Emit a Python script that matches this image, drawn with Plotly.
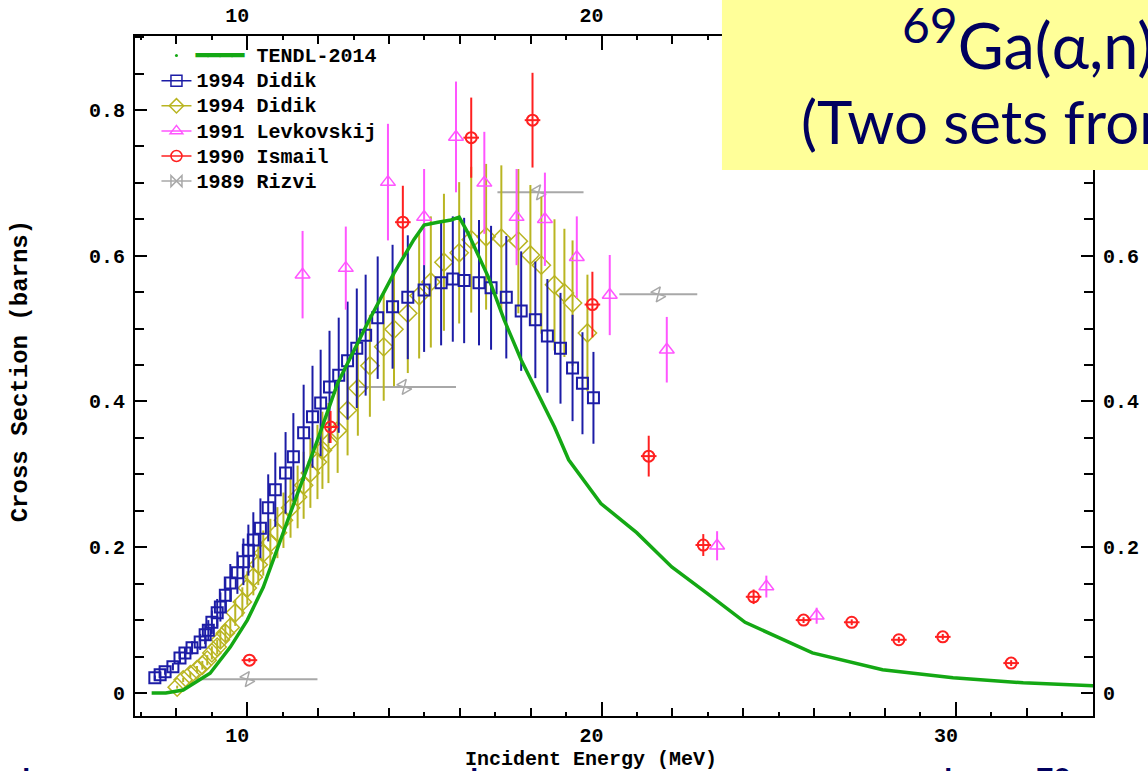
import plotly.graph_objects as go

# ---------------- data ----------------
tendl_x = [7.3, 7.7, 8.19, 8.95, 9.52, 10.0, 10.45, 10.93, 11.42, 11.98, 12.55, 13.4, 14.14,
           14.7, 14.99, 15.38, 15.75, 15.98, 16.23, 16.8, 17.25, 17.73, 18.2, 18.67, 19.07,
           19.98, 20.99, 21.98, 22.97, 24.05, 25.95, 27.93, 29.92, 31.9, 33.88]
tendl_y = [0.0, 0.0, 0.004, 0.027, 0.063, 0.10, 0.145, 0.21, 0.274, 0.347, 0.425, 0.508, 0.576,
           0.622, 0.642, 0.646, 0.649, 0.653, 0.631, 0.571, 0.512, 0.457, 0.41, 0.365, 0.32,
           0.26, 0.22, 0.173, 0.137, 0.097, 0.055, 0.032, 0.021, 0.014, 0.01]

didik1_x = [7.39, 7.54, 7.68, 7.9, 8.1, 8.24, 8.44, 8.67, 8.81, 8.9, 9.0, 9.15, 9.24, 9.38, 9.52,
            9.72, 9.89, 10.03, 10.17, 10.37, 10.59, 10.79, 11.08, 11.3, 11.59, 11.84, 12.07,
            12.32, 12.58, 12.83, 13.09, 13.34, 13.68, 14.1, 14.53, 14.99, 15.47, 15.8, 16.12,
            16.54, 16.88, 17.31, 17.73, 18.13, 18.47, 18.84, 19.18, 19.46, 19.77]
didik1_y = [0.021, 0.025, 0.029, 0.036, 0.048, 0.055, 0.062, 0.07, 0.08, 0.086, 0.097, 0.11,
            0.118, 0.134, 0.151, 0.165, 0.18, 0.196, 0.21, 0.226, 0.254, 0.279, 0.302, 0.324,
            0.357, 0.379, 0.398, 0.42, 0.436, 0.456, 0.473, 0.491, 0.515, 0.53, 0.543, 0.553,
            0.563, 0.568, 0.566, 0.563, 0.556, 0.543, 0.524, 0.512, 0.49, 0.473, 0.446, 0.425,
            0.405]
didik1_err = [0.003, 0.004, 0.004, 0.005, 0.007, 0.008, 0.009, 0.011, 0.013, 0.014, 0.016, 0.019,
              0.02, 0.023, 0.026, 0.029, 0.032, 0.035, 0.038, 0.041, 0.046, 0.051, 0.056, 0.06,
              0.066, 0.07, 0.073, 0.077, 0.079, 0.081, 0.082, 0.083, 0.084, 0.085, 0.085, 0.085,
              0.086, 0.086, 0.086, 0.086, 0.085, 0.084, 0.082, 0.08, 0.078, 0.076, 0.073, 0.07,
              0.063]

didik2_x = [8.02, 8.19, 8.39, 8.58, 8.73, 8.87, 9.0, 9.15, 9.24, 9.38, 9.52, 9.66, 9.86, 10.0,
            10.17, 10.31, 10.45, 10.65, 10.85, 11.02, 11.22, 11.42, 11.59, 11.78, 11.98, 12.12,
            12.29, 12.55, 12.83, 13.12, 13.46, 13.85, 14.14, 14.53, 14.85, 15.18, 15.55, 15.98,
            16.32, 16.74, 17.17, 17.65, 17.99, 18.3, 18.67, 18.95, 19.18, 19.6]
didik2_y = [0.008, 0.018, 0.025, 0.032, 0.038, 0.045, 0.055, 0.063, 0.073, 0.082, 0.09, 0.11,
            0.125, 0.144, 0.159, 0.176, 0.192, 0.206, 0.22, 0.237, 0.254, 0.269, 0.285, 0.302,
            0.317, 0.333, 0.343, 0.36, 0.388, 0.418, 0.449, 0.475, 0.499, 0.521, 0.545, 0.564,
            0.591, 0.604, 0.622, 0.626, 0.624, 0.62, 0.601, 0.587, 0.56, 0.549, 0.535, 0.494]
didik2_err = [0.002, 0.003, 0.004, 0.005, 0.006, 0.007, 0.009, 0.01, 0.012, 0.013, 0.014, 0.018,
              0.02, 0.023, 0.025, 0.028, 0.031, 0.033, 0.035, 0.038, 0.041, 0.043, 0.046, 0.048,
              0.051, 0.053, 0.055, 0.058, 0.062, 0.065, 0.07, 0.074, 0.078, 0.082, 0.086, 0.09,
              0.094, 0.097, 0.1, 0.1, 0.1, 0.099, 0.096, 0.094, 0.09, 0.088, 0.086, 0.08]

levk_x = [11.56, 12.78, 13.97, 14.99, 15.89, 16.69, 17.6, 18.4, 19.3, 20.23, 21.84, 23.26, 24.65, 26.07]
levk_y = [0.574, 0.583, 0.701, 0.653, 0.763, 0.70, 0.653, 0.65, 0.598, 0.546, 0.471, 0.202, 0.146, 0.106]
levk_err = [0.06, 0.057, 0.08, 0.066, 0.076, 0.07, 0.066, 0.064, 0.056, 0.055, 0.045, 0.02, 0.015, 0.011]

ismail_x = [10.06, 12.35, 14.39, 16.32, 18.05, 19.74, 21.33, 22.87, 24.29, 25.7, 27.06, 28.39, 29.63, 31.56]
ismail_y = [0.045, 0.365, 0.646, 0.762, 0.786, 0.533, 0.325, 0.203, 0.132, 0.1, 0.097, 0.073, 0.077, 0.041]
ismail_err = [0.003, 0.022, 0.05, 0.055, 0.065, 0.045, 0.028, 0.015, 0.01, 0.004, 0.004, 0.004, 0.004, 0.004]
ismail_xerr = [0.22, 0.22, 0.22, 0.22, 0.22, 0.22, 0.22, 0.22, 0.22, 0.22, 0.22, 0.22, 0.22, 0.22]

rizvi_x = [10.0, 14.43, 18.22, 21.6]
rizvi_y = [0.019, 0.42, 0.687, 0.547]
rizvi_xplus = [1.98, 1.46, 1.27, 1.1]
rizvi_xminus = [1.47, 1.32, 1.16, 1.1]

x_range = [6.83, 33.87]
y_range = [-0.0316, 0.9015]
x_bottom_labels = [10, 20, 30]
x_top_labels = [10, 20]
y_left_vals = [0, 0.2, 0.4, 0.6, 0.8]
y_left_text = ["0", "0.2", "0.4", "0.6", "0.8"]
y_right_vals = [0, 0.2, 0.4, 0.6]
y_right_text = ["0", "0.2", "0.4", "0.6"]

# ---------------- styles ----------------
C_GREEN = "#14a814"
C_BLUE = "#1c1ca6"
C_OLIVE = "#b9b522"
C_MAG = "#ff55ff"
C_RED = "#ff2020"
C_GRAY = "#a8a8a8"
NAVY = "#00005e"
MONO = dict(family="Liberation Mono", size=20, color="black", weight="bold")

fig = go.Figure()


def err(arr, color):
    return dict(type="data", array=arr, thickness=2, width=0, color=color, visible=True)


fig.add_trace(go.Scatter(x=rizvi_x, y=rizvi_y, mode="markers", showlegend=False,
                         marker=dict(symbol="bowtie-open", size=11, angle=60, color=C_GRAY,
                                     line=dict(color=C_GRAY, width=1.5)),
                         error_x=dict(type="data", array=rizvi_xplus, arrayminus=rizvi_xminus,
                                      thickness=2, width=0, color=C_GRAY)))
fig.add_trace(go.Scatter(x=didik2_x, y=didik2_y, mode="markers", showlegend=False,
                         marker=dict(symbol="diamond-open", size=14, color=C_OLIVE,
                                     line=dict(color=C_OLIVE, width=1.5)),
                         error_y=err(didik2_err, C_OLIVE)))
fig.add_trace(go.Scatter(x=didik1_x, y=didik1_y, mode="markers", showlegend=False,
                         marker=dict(symbol="square-open", size=11, color=C_BLUE,
                                     line=dict(color=C_BLUE, width=2)),
                         error_y=err(didik1_err, C_BLUE)))
fig.add_trace(go.Scatter(x=levk_x, y=levk_y, mode="markers", showlegend=False,
                         marker=dict(symbol="triangle-up-open", size=13, color=C_MAG,
                                     line=dict(color=C_MAG, width=1.5)),
                         error_y=err(levk_err, C_MAG)))
fig.add_trace(go.Scatter(x=ismail_x, y=ismail_y, mode="markers", showlegend=False,
                         marker=dict(symbol="circle-open", size=11, color=C_RED,
                                     line=dict(color=C_RED, width=2)),
                         error_y=err(ismail_err, C_RED),
                         error_x=dict(type="data", array=ismail_xerr, thickness=2, width=0, color=C_RED)))
fig.add_trace(go.Scatter(x=tendl_x, y=tendl_y, mode="lines", showlegend=False,
                         line=dict(color=C_GREEN, width=3.5)))

# legend entries (TENDL: small dot + a green bar drawn before the name, as in the reference)
fig.add_trace(go.Scatter(x=[None], y=[None], mode="markers", legendrank=1,
                         name="<span style='font-size:20px'><span style='color:" + C_GREEN +
                              "'>━━━━</span> TENDL-2014</span>",
                         marker=dict(symbol="circle", size=3, color=C_GREEN)))
legend_items = [
    ("1994 Didik", "square-open", C_BLUE),
    ("1994 Didik", "diamond-open", C_OLIVE),
    ("1991 Levkovskij", "triangle-up-open", C_MAG),
    ("1990 Ismail", "circle-open", C_RED),
    ("1989 Rizvi", "bowtie-open", C_GRAY),
]
for i, (name, sym, col) in enumerate(legend_items):
    fig.add_trace(go.Scatter(x=[None], y=[None], mode="lines+markers", legendrank=i + 2,
                             name="<span style='font-size:20px'>" + name + "</span>",
                             line=dict(color=col, width=1.5),
                             marker=dict(symbol=sym, size=11, color=col, line=dict(color=col, width=1.5))))

MINOR_X = dict(dtick=1, tick0=0, ticklen=4, tickwidth=1.5, tickcolor="black", ticks="inside")
MINOR_Y = dict(dtick=0.05, tick0=0, ticklen=9, tickwidth=1.5, tickcolor="black", ticks="inside")
line_axis = dict(showgrid=False, zeroline=False, showline=True, linecolor="black", linewidth=2,
                 ticks="inside", tickcolor="black", tickwidth=2, tickfont=MONO, automargin=False)
bare_axis = dict(showgrid=False, zeroline=False, showline=False, showticklabels=False,
                 ticks="inside", tickcolor="black", tickwidth=2, automargin=False)

fig.update_layout(
    width=1148, height=771,
    margin=dict(l=135, r=55, t=36, b=55, autoexpand=False),
    plot_bgcolor="white", paper_bgcolor="white",
    showlegend=True,
    legend=dict(x=0.0224, y=0.997, xanchor="left", yanchor="top", bgcolor="rgba(0,0,0,0)",
                font=dict(family="Liberation Mono", size=17, color="black", weight="bold"),
                itemwidth=30, tracegroupgap=0),
    xaxis=dict(**line_axis, range=x_range, tickvals=x_bottom_labels, ticklen=14,
               ticklabelshift=-10, ticklabelstandoff=0, minor=MINOR_X),
    xaxis2=dict(**line_axis, range=x_range, overlaying="x", side="top", matches="x", anchor="y",
                tickvals=x_top_labels, ticklen=14, ticklabelshift=-10, ticklabelstandoff=4,
                minor=MINOR_X),
    xaxis3=dict(**bare_axis, range=x_range, overlaying="x", side="bottom", matches="x", anchor="y",
                dtick=2, tick0=0, ticklen=8),
    xaxis4=dict(**bare_axis, range=x_range, overlaying="x", side="top", matches="x", anchor="y",
                dtick=2, tick0=0, ticklen=8),
    yaxis=dict(**line_axis, range=y_range, ticklen=12, tickvals=y_left_vals, ticktext=y_left_text,
               ticklabelstandoff=4, minor=MINOR_Y),
    yaxis2=dict(**line_axis, range=y_range, overlaying="y", side="right", matches="y", anchor="x",
                ticklen=12, tickvals=y_right_vals, ticktext=y_right_text, ticklabelstandoff=4,
                minor=MINOR_Y),
)

# invisible traces so the overlay axes are drawn
fig.add_trace(go.Scatter(x=[None], y=[None], xaxis="x2", yaxis="y2", showlegend=False, hoverinfo="skip"))
fig.add_trace(go.Scatter(x=[None], y=[None], xaxis="x3", yaxis="y", showlegend=False, hoverinfo="skip"))
fig.add_trace(go.Scatter(x=[None], y=[None], xaxis="x4", yaxis="y", showlegend=False, hoverinfo="skip"))

# axis titles
fig.add_annotation(xref="paper", yref="paper", x=0.476, y=-0.0647, xanchor="center", yanchor="middle",
                   text="Incident Energy (MeV)", showarrow=False,
                   font=dict(family="Liberation Mono", size=20, color="black", weight="bold"))
fig.add_annotation(xref="paper", yref="paper", x=-0.12, y=0.507, xanchor="center", yanchor="middle",
                   text="Cross Section (barns)", showarrow=False, textangle=-90,
                   font=dict(family="Liberation Mono", size=24, color="black", weight="bold"))

# yellow title box from the slide
fig.add_shape(type="rect", xref="paper", yref="paper", x0=0.6127, x1=1.07, y0=0.803, y1=1.07,
              fillcolor="#ffff99", line=dict(width=0), layer="above")
TITLE_FONT = dict(family="Lato", size=63, color=NAVY)
fig.add_annotation(xref="paper", yref="paper", x=0.7985, y=0.996, xanchor="left", yanchor="middle",
                   text="<sup><span style='font-size:48px'>69</span></sup>Ga(α,n)"
                        "<sup><span style='font-size:48px'>72</span></sup>As",
                   showarrow=False, font=TITLE_FONT)
fig.add_annotation(xref="paper", yref="paper", x=0.6931, y=0.8745, xanchor="left", yanchor="middle",
                   text="(Two sets from Didik)", showarrow=False, font=dict(family="Lato", size=60, color=NAVY))
# tops of the next slide line, cut by the frame
NEXT_FONT = dict(family="Lato", size=44, color=NAVY)
fig.add_annotation(xref="paper", yref="paper", x=-0.1138, y=-0.0588, xanchor="center", yanchor="top",
                   text="l", showarrow=False, font=NEXT_FONT)
fig.add_annotation(xref="paper", yref="paper", x=0.3539, y=-0.0588, xanchor="center", yanchor="top",
                   text="l", showarrow=False, font=NEXT_FONT)
fig.add_annotation(xref="paper", yref="paper", x=0.8486, y=-0.0588, xanchor="center", yanchor="top",
                   text="l", showarrow=False, font=NEXT_FONT)
fig.add_annotation(xref="paper", yref="paper", x=0.938, y=-0.062, xanchor="left", yanchor="top",
                   text="<b>78</b>", showarrow=False, font=dict(family="Lato", size=30, color=NAVY))

fig.write_html("out.html", config={"displayModeBar": False},
               post_script="document.body.style.margin='0';")
